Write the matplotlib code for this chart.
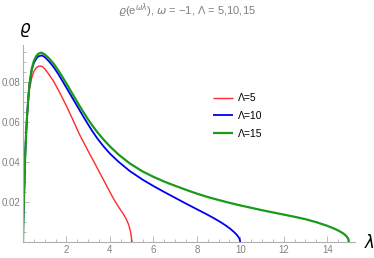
import matplotlib
matplotlib.use('Agg')
import matplotlib.pyplot as plt
from matplotlib.ticker import MultipleLocator, FixedLocator

plt.rcParams['font.family'] = ['Liberation Sans', 'DejaVu Sans']
plt.rcParams['mathtext.fontset'] = 'dejavusans'

# values
lam_5 = [0, 0.01, 0.03, 0.05, 0.1, 0.15, 0.2, 0.25, 0.3, 0.4, 0.5, 0.6, 0.7,
         0.8, 0.9, 1.0, 1.2, 1.4, 1.7, 2.0, 2.3, 2.6, 3.0, 3.3, 3.6, 4.0,
         4.2, 4.4, 4.6, 4.75, 4.85, 4.92, 4.96, 4.99, 5.0]
rho_5 = [0, 0.008, 0.017, 0.024, 0.043, 0.055, 0.064, 0.071, 0.0765, 0.082,
         0.0852, 0.087, 0.0878, 0.088, 0.0876, 0.0866, 0.0837, 0.0805,
         0.0745, 0.068, 0.061, 0.0538, 0.0454, 0.0394, 0.0332, 0.025, 0.021,
         0.0175, 0.0143, 0.0115, 0.009, 0.0065, 0.0045, 0.002, 0]

lam_10 = [0, 0.01, 0.03, 0.05, 0.1, 0.15, 0.2, 0.25, 0.3, 0.4, 0.5, 0.6,
          0.7, 0.87, 1.0, 1.2, 1.4, 1.6, 1.8, 2.0, 2.2, 2.4, 2.6, 2.8, 3.0,
          3.2, 3.4, 3.7, 4.0, 4.4, 4.9, 5.5, 6.0, 6.5, 7.0, 7.5, 8.0, 8.5,
          8.8, 9.1, 9.35, 9.55, 9.7, 9.82, 9.91, 9.97, 10.0]
rho_10 = [0, 0.008, 0.017, 0.024, 0.043, 0.056, 0.065, 0.073, 0.079, 0.086,
          0.0895, 0.0915, 0.0928, 0.0933, 0.0925, 0.0903, 0.0876, 0.0844,
          0.0808, 0.0771, 0.0734, 0.0697, 0.066, 0.0623, 0.0587, 0.0553,
          0.0521, 0.0479, 0.0442, 0.0401, 0.0356, 0.0312, 0.028, 0.025,
          0.0221, 0.0192, 0.0164, 0.0136, 0.0118, 0.0099, 0.0081, 0.0065,
          0.0051, 0.0038, 0.0026, 0.0015, 0]

lam_15 = [0, 0.01, 0.03, 0.05, 0.1, 0.15, 0.2, 0.25, 0.3, 0.4, 0.5, 0.6,
          0.7, 0.84, 1.0, 1.2, 1.4, 1.6, 1.8, 2.0, 2.2, 2.4, 2.6, 2.8, 3.0,
          3.2, 3.4, 3.7, 4.0, 4.4, 4.9, 5.5, 6.0, 6.5, 7.0, 7.5, 8.0, 8.5,
          9.0, 9.5, 10.0, 10.5, 11.0, 11.5, 12.0, 12.5, 13.0, 13.5, 14.0,
          14.3, 14.55, 14.75, 14.88, 14.96, 15.0]
rho_15 = [0, 0.008, 0.017, 0.024, 0.043, 0.056, 0.065, 0.073, 0.079, 0.0865,
          0.0905, 0.0928, 0.0941, 0.0947, 0.0938, 0.0918, 0.0893, 0.0862,
          0.0828, 0.0792, 0.0755, 0.0718, 0.0681, 0.0646, 0.0612, 0.0581,
          0.0552, 0.0513, 0.0478, 0.0437, 0.0394, 0.0353, 0.0326, 0.0302,
          0.0281, 0.0261, 0.0242, 0.0225, 0.021, 0.0196, 0.0183, 0.0171,
          0.0159, 0.0148, 0.0137, 0.0126, 0.0114, 0.0099, 0.0081, 0.0068,
          0.0055, 0.0042, 0.003, 0.0018, 0]

series = [
    (lam_5, rho_5, 'Λ=5', '#ff2a2a', 1.0),
    (lam_10, rho_10, 'Λ=10', '#0000f0', 1.3),
    (lam_15, rho_15, 'Λ=15', '#1a9a1a', 1.6),
]

fig = plt.figure(figsize=(3.74, 2.58), dpi=100)
ax = fig.add_axes([23 / 374, 16 / 258, 332 / 374, 197 / 258])

for lam, rho, lab, col, lw in series:
    ax.plot(lam, rho, color=col, lw=lw, label=lab, solid_capstyle='butt',
            solid_joinstyle='round')

ax.set_xlim(0, 15.28)
ax.set_ylim(0, 0.0985)

for s in ['top', 'right']:
    ax.spines[s].set_visible(False)
for s in ['left', 'bottom']:
    ax.spines[s].set_color('#b0b0b0')
    ax.spines[s].set_linewidth(0.8)

ax.xaxis.set_major_locator(FixedLocator([2, 4, 6, 8, 10, 12, 14]))
ax.xaxis.set_minor_locator(MultipleLocator(0.5))
ax.yaxis.set_major_locator(FixedLocator([0.02, 0.04, 0.06, 0.08]))
ax.yaxis.set_minor_locator(MultipleLocator(0.005))
ax.tick_params(which='both', direction='in', color='#b0b0b0', labelcolor='#808080',
               labelsize=7, width=0.6)
ax.tick_params(which='major', length=4, pad=2)
ax.tick_params(which='minor', length=2)
ax.set_yticklabels(['0.02', '0.04', '0.06', '0.08'])
ax.set_xticklabels(['2', '4', '6', '8', '10', '12', '14'])

fig.text(25 / 374, 1 - 30 / 258, r'$\varrho$', fontsize=12, ha='center', va='center')
fig.text(369 / 374, 1 - 242 / 258, r'$\lambda$', fontsize=12, ha='center', va='center')
fig.text(187 / 374, 1 - 11 / 258, r'$\varrho$(e$^{\omega\lambda}$), $\omega$ = −1, Λ = 5,10,15',
         fontsize=8, color='#808080', ha='center', va='center')

ax.legend(loc='upper left', bbox_to_anchor=(208 / 374, 1 - 88 / 258),
          bbox_transform=fig.transFigure, frameon=False, fontsize=7.5,
          handlelength=1.9, handletextpad=0.5, labelspacing=0.75, borderpad=0)

fig.savefig('out.png', dpi=100)
